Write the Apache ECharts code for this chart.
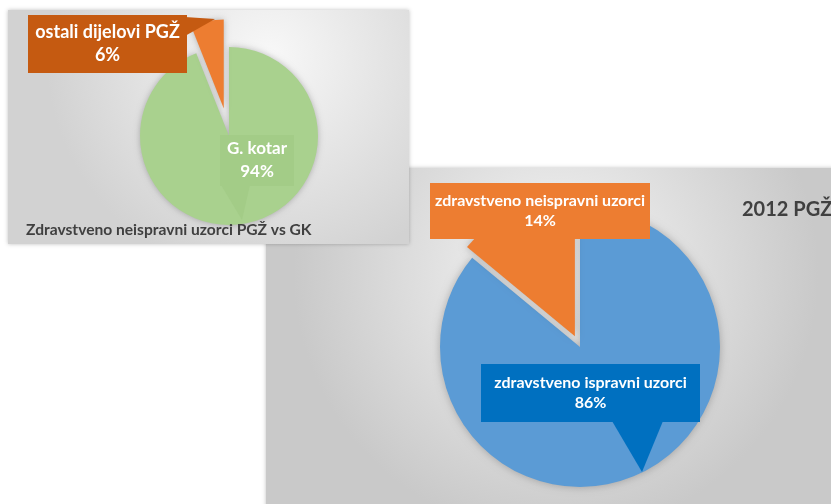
<!DOCTYPE html>
<html>
<head>
<meta charset="utf-8">
<script src="https://cdn.jsdelivr.net/npm/echarts@6/dist/echarts.min.js"></script>
<style>
  html, body { margin: 0; padding: 0; background: #fff; }
  #chart { width: 831px; height: 504px; }
</style>
</head>
<body>
<div id="chart"></div>
<script>
// podaci
const pie1Names = ['G. kotar', 'ostali dijelovi PGŽ'];
const pie1Values = [94, 6];
const pie2Names = ['zdravstveno ispravni uzorci', 'zdravstveno neispravni uzorci'];
const pie2Values = [86, 14];
const chartTitles = ['Zdravstveno neispravni uzorci PGŽ vs GK', '2012 PGŽ'];

const FONT = 'Lato, "Open Sans", sans-serif';
const pie1Colors = ['#a9d18e', '#ed7d31'];
const pie1BoxColors = ['#a3cc87', '#c55a11'];
const pie2Colors = ['#5b9bd5', '#ed7d31'];
const pie2BoxColors = ['#0070c0', '#ed7d31'];

// callout boxes: [left, top, width, height, fontSize, lineHeight]
const pie1Boxes = [[220, 135, 74, 51, 17, 23], [28, 15, 159, 58, 18, 23]];
const pie2Boxes = [[481, 364, 219, 58, 16, 20], [430, 183, 220, 56, 16, 20]];

function pieData(names, values, colors) {
  return names.map(function (n, i) {
    return { name: n, value: values[i], selected: i === 1, itemStyle: { color: colors[i] } };
  });
}

// label boxes built from the same arrays
function callouts(names, values, boxColors, boxes) {
  return names.map(function (n, i) {
    const b = boxes[i];
    return {
      type: 'text', z: 4,
      style: {
        text: n + '\n' + values[i] + '%',
        x: b[0] + b[2] / 2,
        y: b[1] + b[3] / 2,
        align: 'center',
        verticalAlign: 'middle',
        width: b[2],
        padding: [(b[3] - 2 * b[5]) / 2, 0],
        lineHeight: b[5],
        fill: '#fff',
        font: 'bold ' + b[4] + 'px ' + FONT,
        backgroundColor: boxColors[i],
        boxShadowBlur: 4,
        boxShadowColor: 'rgba(0,0,0,0.35)',
        boxShadowOffsetX: 2,
        boxShadowOffsetY: 2
      }
    };
  });
}

const chart = echarts.init(document.getElementById('chart'));
chart.setOption({
  animation: false,
  backgroundColor: '#fff',
  title: [
    {
      text: chartTitles[0], left: 21, top: 217,
      textStyle: { fontFamily: FONT, fontSize: 15.6, fontWeight: 'bold', color: '#404040' }
    },
    {
      text: chartTitles[1], left: 737, top: 195,
      textStyle: { fontFamily: FONT, fontSize: 20, fontWeight: 'bold', color: '#404040' }
    }
  ],
  graphic: [
    {
      type: 'rect', z: 0,
      shape: { x: 266, y: 168, width: 580, height: 350 },
      style: {
        fill: {
          type: 'radial', x: 0.5, y: 0.3, r: 0.75,
          colorStops: [{ offset: 0, color: '#f6f6f6' }, { offset: 1, color: '#c9c9c9' }]
        },
        shadowBlur: 4, shadowColor: 'rgba(0,0,0,0.25)'
      }
    },
    {
      type: 'rect', z: 1,
      shape: { x: 8, y: 10, width: 401, height: 234 },
      style: {
        fill: {
          type: 'radial', x: 0.65, y: 0.2, r: 0.95,
          colorStops: [{ offset: 0, color: '#f8f8f8' }, { offset: 1, color: '#d2d2d2' }]
        },
        shadowBlur: 4, shadowColor: 'rgba(0,0,0,0.25)'
      }
    },
    // callout tails
    { type: 'polygon', z: 3, shape: { points: [[185, 17], [215, 19], [185, 36]] }, style: { fill: pie1BoxColors[1] } },
    { type: 'polygon', z: 3, shape: { points: [[221, 185], [250, 185], [242, 220]] }, style: { fill: pie1BoxColors[0] } },
    { type: 'polygon', z: 3, shape: { points: [[612, 421], [663, 421], [642, 472]] }, style: { fill: pie2BoxColors[0] } }
  ].concat(
    callouts(pie1Names, pie1Values, pie1BoxColors, pie1Boxes),
    callouts(pie2Names, pie2Values, pie2BoxColors, pie2Boxes)
  ),
  series: [
    {
      type: 'pie',
      center: [229, 136],
      radius: 89,
      startAngle: 90,
      selectedMode: 'single',
      selectedOffset: 28,
      itemStyle: { shadowBlur: 6, shadowColor: 'rgba(0,0,0,0.25)' },
      label: { show: false },
      labelLine: { show: false },
      emphasis: { disabled: true },
      data: pieData(pie1Names, pie1Values, pie1Colors)
    },
    {
      type: 'pie',
      center: [580, 347],
      radius: 140,
      startAngle: 90,
      selectedMode: 'single',
      selectedOffset: 12,
      itemStyle: { shadowBlur: 8, shadowColor: 'rgba(0,0,0,0.25)' },
      label: { show: false },
      labelLine: { show: false },
      emphasis: { disabled: true },
      data: pieData(pie2Names, pie2Values, pie2Colors)
    }
  ]
});
</script>
</body>
</html>
